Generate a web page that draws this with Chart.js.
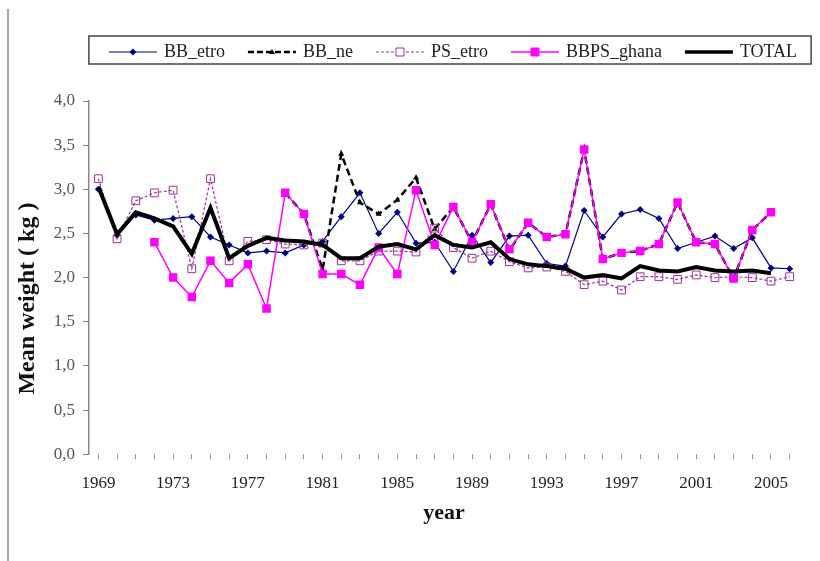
<!DOCTYPE html>
<html lang="en">
<head>
<meta charset="UTF-8">
<title>Mean weight by year</title>
<script src="https://cdn.jsdelivr.net/npm/chart.js"></script>
<style>
  html, body { margin: 0; padding: 0; background: #fff; }
  #wrap { width: 820px; height: 561px; }
</style>
</head>
<body>
<div id="wrap"><canvas id="chart" width="820" height="561"></canvas></div>
<script>
// years on the x axis
const years = ['1969','1970','1971','1972','1973','1974','1975','1976','1977','1978',
  '1979','1980','1981','1982','1983','1984','1985','1986','1987','1988',
  '1989','1990','1991','1992','1993','1994','1995','1996','1997','1998',
  '1999','2000','2001','2002','2003','2004','2005','2006'];
const xTickLabels = ['1969','1973','1977','1981','1985','1989','1993','1997','2001','2005'];

// mean weight (kg)
const bbEtro = [3.00,2.48,2.71,2.65,2.67,2.69,2.46,2.37,2.28,2.30,
  2.28,2.37,2.41,2.69,2.96,2.50,2.74,2.39,2.40,2.07,
  2.48,2.17,2.47,2.48,2.16,2.13,2.76,2.46,2.72,2.77,
  2.67,2.33,2.40,2.47,2.33,2.45,2.11,2.10];
const bbNe = [null,null,null,null,null,null,null,null,null,null,
  2.96,2.72,2.09,3.40,2.85,2.72,2.88,3.13,2.55,2.80,
  2.40,2.83,2.31,2.62,2.46,2.49,3.45,2.21,2.28,2.30,
  2.38,2.85,2.40,2.38,1.99,2.54,2.74,null];
const psEtro = [3.12,2.44,2.87,2.96,2.99,2.10,3.12,2.19,2.41,2.43,
  2.38,2.37,2.39,2.19,2.19,2.30,2.30,2.29,2.56,2.34,
  2.22,2.30,2.18,2.11,2.12,2.07,1.92,1.96,1.86,2.01,
  2.01,1.98,2.03,2.00,2.01,2.00,1.96,2.01];
const bbpsGhana = [null,null,null,2.40,2.00,1.78,2.19,1.94,2.15,1.65,
  2.96,2.72,2.04,2.04,1.92,2.34,2.04,2.99,2.37,2.80,
  2.40,2.83,2.32,2.62,2.46,2.49,3.45,2.21,2.28,2.30,
  2.38,2.85,2.40,2.38,1.99,2.54,2.74,null];
const total = [3.03,2.49,2.74,2.67,2.58,2.27,2.79,2.22,2.36,2.45,
  2.42,2.41,2.37,2.22,2.22,2.35,2.38,2.32,2.48,2.37,
  2.34,2.40,2.21,2.15,2.13,2.10,2.00,2.03,1.99,2.13,
  2.08,2.07,2.12,2.08,2.07,2.08,2.05,null];

const SERIF = '"Liberation Serif", "Times New Roman", serif';

// small line+marker picture for each legend entry
function legendIcon(color, width, dash, marker, fill) {
  const c = document.createElement('canvas');
  c.width = 50; c.height = 14;
  const g = c.getContext('2d');
  g.strokeStyle = color;
  g.lineWidth = width;
  g.setLineDash(dash);
  g.beginPath(); g.moveTo(1, 7); g.lineTo(49, 7); g.stroke();
  g.setLineDash([]);
  g.lineWidth = 1;
  g.fillStyle = fill;
  g.beginPath();
  if (marker === 'diamond') {
    g.moveTo(25, 3.5); g.lineTo(28.5, 7); g.lineTo(25, 10.5); g.lineTo(21.5, 7); g.closePath();
    g.fill();
  } else if (marker === 'triangle') {
    g.moveTo(25, 4); g.lineTo(28, 9); g.lineTo(22, 9); g.closePath();
    g.fill();
  } else if (marker === 'square') {
    g.rect(21, 3, 8, 8);
    g.fill();
    g.stroke();
  }
  return c;
}

const icons = [
  legendIcon('#000080', 1.2, [], 'diamond', '#000080'),
  legendIcon('#000000', 2.5, [6, 3], 'triangle', '#000000'),
  legendIcon('#993399', 1.2, [3, 2], 'square', '#ffffff'),
  legendIcon('#ff00ff', 1.5, [], 'square', '#ff00ff'),
  legendIcon('#000000', 3.5, [], 'none', '#000000')
];

// white page, left frame line and the box round the legend
const framePlugin = {
  id: 'frame',
  beforeDraw(chart) {
    const ctx = chart.ctx;
    ctx.save();
    ctx.fillStyle = '#fff';
    ctx.fillRect(0, 0, chart.width, chart.height);
    ctx.strokeStyle = '#8a8a8a';
    ctx.lineWidth = 1.5;
    ctx.beginPath(); ctx.moveTo(8, 9); ctx.lineTo(8, chart.height); ctx.stroke();
    ctx.restore();
  },
  afterDraw(chart) {
    const boxes = chart.legend && chart.legend.legendHitBoxes;
    if (!boxes || !boxes.length) return;
    let l = Infinity, r = -Infinity, t = Infinity, b = -Infinity;
    boxes.forEach(h => {
      l = Math.min(l, h.left); r = Math.max(r, h.left + h.width);
      t = Math.min(t, h.top); b = Math.max(b, h.top + h.height);
    });
    const ctx = chart.ctx;
    ctx.save();
    ctx.strokeStyle = '#444';
    ctx.lineWidth = 1.5;
    ctx.strokeRect(l - 22, t - 7, (r - l) + 36, (b - t) + 10);
    ctx.restore();
  }
};

// extra room under the legend, and legend centred a bit to the right
const legendGap = {
  id: 'legendGap',
  afterInit(chart) {
    const fit = chart.legend.fit;
    chart.legend.fit = function () {
      fit.call(this);
      this.height += 30;
    };
  },
  afterLayout(chart) {
    const lg = chart.legend;
    const shift = 454 - (lg.left + lg.right) / 2;
    lg.left += shift;
    lg.right += shift;
  }
};

const ctx = document.getElementById('chart').getContext('2d');
new Chart(ctx, {
  type: 'line',
  data: {
    labels: years,
    datasets: [
      { label: 'BB_etro', data: bbEtro, borderColor: '#000080', backgroundColor: '#000080',
        borderWidth: 1.2, pointStyle: 'rectRot', pointRadius: 3.5, pointBorderWidth: 0, order: 5 },
      { label: 'BB_ne', data: bbNe, borderColor: '#000000', backgroundColor: '#000000',
        borderWidth: 2.5, borderDash: [7, 4], pointStyle: 'triangle', pointRadius: 3.5, pointBorderWidth: 0, order: 4 },
      { label: 'PS_etro', data: psEtro, borderColor: '#993399', backgroundColor: 'rgba(255,255,255,0)',
        borderWidth: 1.2, borderDash: [3, 2], pointStyle: 'rect', pointRadius: 5.5, pointBorderWidth: 1, order: 3 },
      { label: 'BBPS_ghana', data: bbpsGhana, borderColor: '#ff00ff', backgroundColor: '#ff00ff',
        borderWidth: 1.5, pointStyle: 'rect', pointRadius: 6, pointBorderWidth: 0, order: 2 },
      { label: 'TOTAL', data: total, borderColor: '#000000', backgroundColor: '#000000',
        borderWidth: 4, pointRadius: 0, order: 1 }
    ]
  },
  options: {
    responsive: false,
    animation: false,
    devicePixelRatio: 1,
    spanGaps: false,
    elements: { line: { tension: 0 } },
    layout: { padding: { left: 13, right: 21, top: 18, bottom: 34 } },
    plugins: {
      tooltip: { enabled: false },
      legend: {
        position: 'top',
        labels: {
          usePointStyle: true,
          pointStyleWidth: 44,
          padding: 25,
          color: '#222',
          font: { family: SERIF, size: 18 },
          sort: (a, b) => a.datasetIndex - b.datasetIndex,
          generateLabels: chart => chart.data.datasets.map((ds, i) => ({
            text: ds.label,
            pointStyle: icons[i],
            datasetIndex: i,
            hidden: false,
            lineWidth: 0,
            fontColor: '#222',
            fillStyle: 'transparent',
            strokeStyle: 'transparent'
          }))
        }
      }
    },
    scales: {
      x: {
        offset: true,
        border: { display: false },
        grid: { drawOnChartArea: false, drawTicks: true, tickLength: 5, color: '#999' },
        ticks: {
          autoSkip: false,
          maxRotation: 0,
          padding: 14,
          color: '#222',
          font: { family: SERIF, size: 17 },
          callback: function (value) {
            const lab = this.getLabelForValue(value);
            return xTickLabels.includes(lab) ? lab : '';
          }
        },
        title: {
          display: true,
          text: 'year',
          color: '#111',
          font: { family: SERIF, size: 22, weight: 'bold' },
          padding: { top: -7, bottom: 0 }
        }
      },
      y: {
        min: 0,
        max: 4,
        border: { display: true, color: '#888', width: 1.5 },
        grid: { drawOnChartArea: false, drawTicks: true, tickLength: 6, color: '#888' },
        ticks: {
          stepSize: 0.5,
          padding: 8,
          color: '#555',
          font: { family: SERIF, size: 17 },
          callback: v => v.toFixed(1).replace('.', ',')
        },
        title: {
          display: true,
          text: 'Mean weight ( kg )\u00a0\u00a0\u00a0\u00a0\u00a0\u00a0\u00a0',
          color: '#111',
          font: { family: SERIF, size: 24, weight: 'bold' },
          padding: { top: 0, bottom: 4 }
        }
      }
    }
  },
  plugins: [framePlugin, legendGap]
});
</script>
</body>
</html>
